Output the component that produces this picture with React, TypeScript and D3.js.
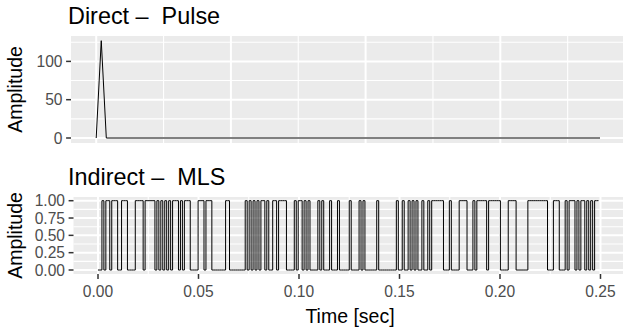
import React from "react";
import * as d3 from "d3";

// ---- data ----
// Direct excitation: a single pulse (time in seconds, amplitude)
const pulseTime = [0, 0.00075, 0.0015, 0.0748];
const pulseAmp = [0, 127, 0, 0];

// Indirect excitation: MLS sequence, one character per sample (10 samples per group)
const mlsFs = 1024;
const mlsBits = [
  "0010110111", "0011100001", "1110111110", "1010101011", "1010111000",
  "0111011100", "0000011000", "0000010101", "0101101001", "1011110000",
  "1011010100", "0010100010", "0010000010", "0001010000", "0010000000",
  "0010010010", "1010010010", "1111110001", "0000111100", "0101111101",
  "1111100001", "1110000001", "1111111110", "0011100010", "1110101101",
  "01011",
].join("");

const timeTicks = [0, 0.05, 0.1, 0.15, 0.2, 0.25];
const timeTickLabels = ["0.00", "0.05", "0.10", "0.15", "0.20", "0.25"];
const pulseYTicks = [0, 50, 100];
const mlsYTicks = [0, 0.25, 0.5, 0.75, 1];
const mlsYTickLabels = ["0.00", "0.25", "0.50", "0.75", "1.00"];

const W = 623;
const H = 329;
const FONT = "'Liberation Sans', Arial, sans-serif";
const PANEL_BG = "#EBEBEB";
const TICK_COL = "#333333";
const LABEL_COL = "#4D4D4D";

function midpoints(vals: number[]): number[] {
  const out: number[] = [];
  for (let i = 0; i < vals.length - 1; i++) out.push((vals[i] + vals[i + 1]) / 2);
  return out;
}

export default function App() {
  // ---- top panel (pulse) ----
  const top = { left: 71, right: 625, top: 36, bottom: 143 };
  const xTop = d3.scaleLinear().domain([0, 0.0748]).range([96.2, 600]);
  const yTop = d3.scaleLinear().domain([0, 127]).range([138, 40.7]);
  const xTopMajor = xTop.ticks(4);
  const xTopMinor = midpoints([...xTopMajor, xTopMajor[xTopMajor.length - 1] + (xTopMajor[1] - xTopMajor[0])]);
  const yTopMinor = midpoints([...pulseYTicks, 150]);

  const pulsePts: [number, number][] = pulseTime.map((t, i) => [t, pulseAmp[i]]);
  const pulseLine = d3
    .line<[number, number]>()
    .x((d) => xTop(d[0]))
    .y((d) => yTop(d[1]))(pulsePts);

  // ---- bottom panel (MLS) ----
  const bot = { left: 73.5, right: 625, top: 197, bottom: 274 };
  const xBot = d3.scaleLinear().domain([0, 0.25]).range([98, 600.5]);
  const yBot = d3.scaleLinear().domain([0, 1]).range([270, 200.7]);
  const xBotMinor = midpoints([-0.05, ...timeTicks, 0.3]).filter(
    (v) => xBot(v) > bot.left && xBot(v) < bot.right
  );
  const yBotMinor = midpoints(mlsYTicks);

  const bits = mlsBits.split("").map((c) => +c);
  const mlsPts: [number, number][] = bits.map((b, i) => [i / mlsFs, b]);
  mlsPts.push([bits.length / mlsFs, bits[bits.length - 1]]);
  const mlsLine = d3
    .line<[number, number]>()
    .curve(d3.curveStepAfter)
    .x((d) => xBot(d[0]))
    .y((d) => yBot(d[1]))(mlsPts);

  const gridMajor = 2;
  const gridMinor = 1.1;

  return (
    <svg width={W} height={H} style={{ display: "block", position: "absolute", left: 0, top: 0 }} fontFamily={FONT}>
      <rect width={W} height={H} fill="#FFFFFF" />

      {/* top panel */}
      <text x={68} y={24} fontSize={23.4} fill="#000" style={{ whiteSpace: "pre" }}>
        {"Direct –  Pulse"}
      </text>
      <rect x={top.left} y={top.top} width={top.right - top.left} height={top.bottom - top.top} fill={PANEL_BG} />
      {yTopMinor.map((v) => (
        <line key={"tym" + v} x1={top.left} x2={top.right} y1={yTop(v)} y2={yTop(v)} stroke="#fff" strokeWidth={gridMinor} />
      ))}
      {xTopMinor.map((v) => (
        <line key={"txm" + v} x1={xTop(v)} x2={xTop(v)} y1={top.top} y2={top.bottom} stroke="#fff" strokeWidth={gridMinor} />
      ))}
      {pulseYTicks.map((v) => (
        <line key={"tyM" + v} x1={top.left} x2={top.right} y1={yTop(v)} y2={yTop(v)} stroke="#fff" strokeWidth={gridMajor} />
      ))}
      {xTopMajor.map((v) => (
        <line key={"txM" + v} x1={xTop(v)} x2={xTop(v)} y1={top.top} y2={top.bottom} stroke="#fff" strokeWidth={gridMajor} />
      ))}
      <path d={pulseLine ?? ""} fill="none" stroke="#000" strokeWidth={1} />
      {pulseYTicks.map((v) => (
        <g key={"tyt" + v}>
          <line x1={top.left - 4.9} x2={top.left} y1={yTop(v)} y2={yTop(v)} stroke={TICK_COL} strokeWidth={1.5} />
          <text x={top.left - 8.5} y={yTop(v)} dy="0.36em" textAnchor="end" fontSize={15.6} fill={LABEL_COL}>
            {v}
          </text>
        </g>
      ))}
      <text
        transform={`translate(21.5, ${(top.top + top.bottom) / 2}) rotate(-90)`}
        textAnchor="middle"
        fontSize={19.5}
        fill="#000"
      >
        Amplitude
      </text>

      {/* bottom panel */}
      <text x={68} y={185} fontSize={23.4} fill="#000" style={{ whiteSpace: "pre" }}>
        {"Indirect –  MLS"}
      </text>
      <rect x={bot.left} y={bot.top} width={bot.right - bot.left} height={bot.bottom - bot.top} fill={PANEL_BG} />
      {yBotMinor.map((v) => (
        <line key={"bym" + v} x1={bot.left} x2={bot.right} y1={yBot(v)} y2={yBot(v)} stroke="#fff" strokeWidth={gridMinor} />
      ))}
      {xBotMinor.map((v) => (
        <line key={"bxm" + v} x1={xBot(v)} x2={xBot(v)} y1={bot.top} y2={bot.bottom} stroke="#fff" strokeWidth={gridMinor} />
      ))}
      {mlsYTicks.map((v) => (
        <line key={"byM" + v} x1={bot.left} x2={bot.right} y1={yBot(v)} y2={yBot(v)} stroke="#fff" strokeWidth={gridMajor} />
      ))}
      {timeTicks.map((v) => (
        <line key={"bxM" + v} x1={xBot(v)} x2={xBot(v)} y1={bot.top} y2={bot.bottom} stroke="#fff" strokeWidth={gridMajor} />
      ))}
      <path d={mlsLine ?? ""} fill="none" stroke="#000" strokeWidth={1} />
      {mlsYTicks.map((v, i) => (
        <g key={"byt" + v}>
          <line x1={bot.left - 4.9} x2={bot.left} y1={yBot(v)} y2={yBot(v)} stroke={TICK_COL} strokeWidth={1.5} />
          <text x={bot.left - 8.5} y={yBot(v)} dy="0.36em" textAnchor="end" fontSize={15.6} fill={LABEL_COL}>
            {mlsYTickLabels[i]}
          </text>
        </g>
      ))}
      {timeTicks.map((v, i) => (
        <g key={"bxt" + v}>
          <line x1={xBot(v)} x2={xBot(v)} y1={bot.bottom} y2={bot.bottom + 4.9} stroke={TICK_COL} strokeWidth={1.5} />
          <text x={xBot(v)} y={297} textAnchor="middle" fontSize={15.6} fill={LABEL_COL}>
            {timeTickLabels[i]}
          </text>
        </g>
      ))}
      <text
        transform={`translate(21.5, ${(bot.top + bot.bottom) / 2}) rotate(-90)`}
        textAnchor="middle"
        fontSize={19.5}
        fill="#000"
      >
        Amplitude
      </text>
      <text x={350} y={323} textAnchor="middle" fontSize={19.5} fill="#000">
        Time [sec]
      </text>
    </svg>
  );
}
